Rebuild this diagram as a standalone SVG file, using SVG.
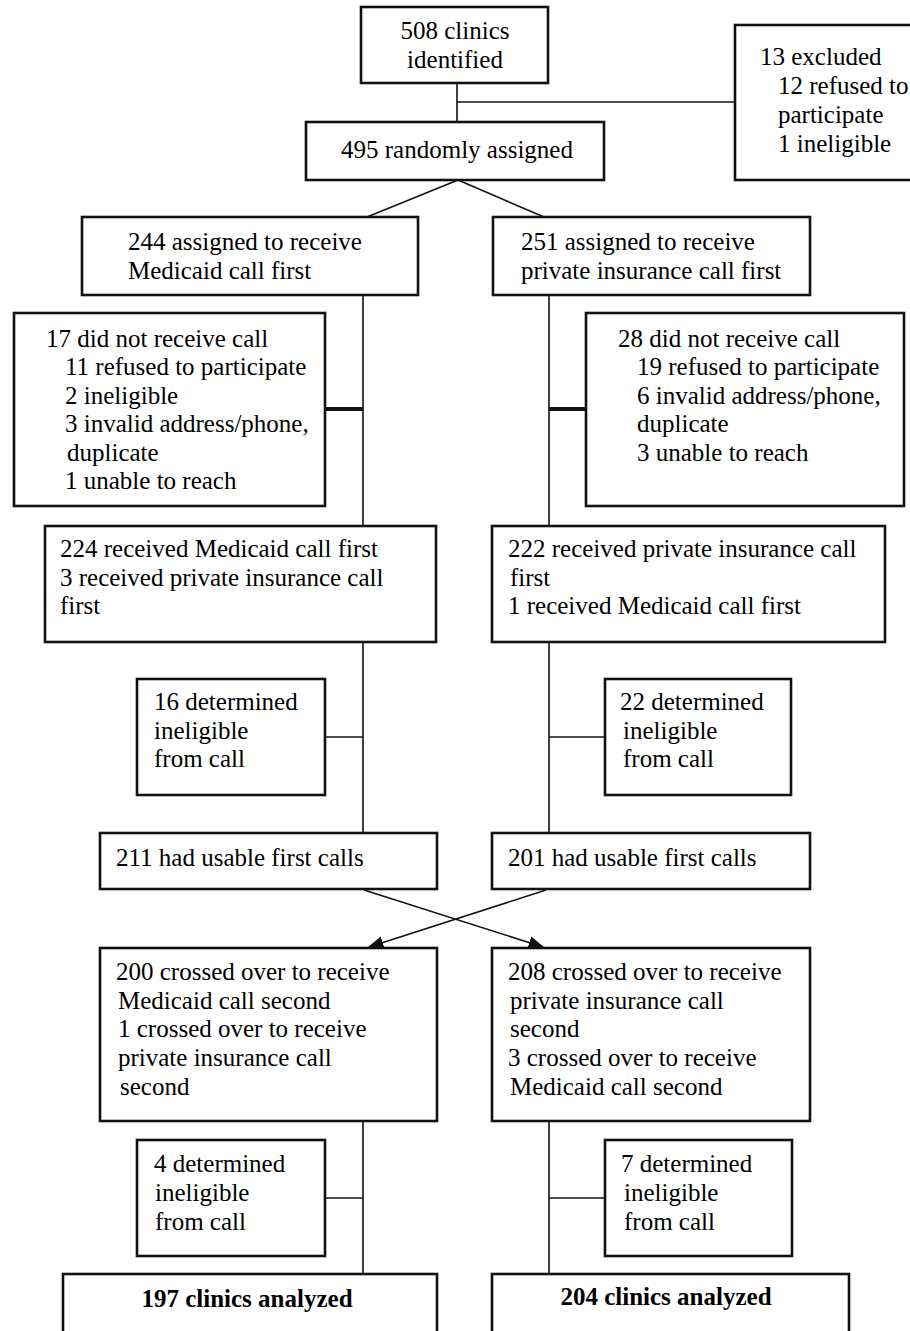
<svg xmlns="http://www.w3.org/2000/svg" width="910" height="1331" viewBox="0 0 910 1331">
<defs>
<style>
.box{fill:#fff;stroke:#111;stroke-width:2.6}
.ln{stroke:#111;stroke-width:1.6;fill:none}
.thk{stroke:#111;stroke-width:4;fill:none}
</style>
<marker id="ah2" viewBox="0 0 10 10" refX="9" refY="5" markerWidth="16" markerHeight="16" markerUnits="userSpaceOnUse" orient="auto">
<path d="M0,1 L10,5 L0,9 z" fill="#111"/>
</marker>
</defs>
<rect width="910" height="1331" fill="#fff"/>
<g id="connectors">
<line class="ln" x1="457" y1="83" x2="457" y2="122"/>
<line class="ln" x1="457" y1="102" x2="736" y2="102"/>
<line class="ln" x1="458" y1="180" x2="367" y2="217"/>
<line class="ln" x1="458" y1="180" x2="544" y2="217"/>
<line class="ln" x1="363" y1="295" x2="363" y2="526"/>
<line class="ln" x1="549" y1="295" x2="549" y2="526"/>
<line class="thk" x1="325" y1="409" x2="363" y2="409"/>
<line class="thk" x1="549" y1="409" x2="586" y2="409"/>
<line class="ln" x1="363" y1="642" x2="363" y2="833"/>
<line class="ln" x1="549" y1="642" x2="549" y2="833"/>
<line class="ln" x1="325" y1="737" x2="363" y2="737"/>
<line class="ln" x1="549" y1="737" x2="605" y2="737"/>
<line class="ln" x1="364" y1="890" x2="543" y2="947" marker-end="url(#ah2)"/>
<line class="ln" x1="546" y1="890" x2="369" y2="947" marker-end="url(#ah2)"/>
<line class="ln" x1="363" y1="1121" x2="363" y2="1274"/>
<line class="ln" x1="549" y1="1121" x2="549" y2="1274"/>
<line class="ln" x1="325" y1="1198" x2="363" y2="1198"/>
<line class="ln" x1="549" y1="1198" x2="605" y2="1198"/>
</g>
<g id="n508">
<rect class="box" x="361" y="7" width="187" height="76"/>
<text font-family="Liberation Serif" font-size="25" text-anchor="middle" x="455" y="39">508 clinics</text>
<text font-family="Liberation Serif" font-size="25" text-anchor="middle" x="455" y="68">identified</text>
</g>
<g id="n13">
<rect class="box" x="735" y="25" width="200" height="155"/>
<text font-family="Liberation Serif" font-size="25" x="760" y="65">13 excluded</text>
<text font-family="Liberation Serif" font-size="25" x="778" y="94">12 refused to</text>
<text font-family="Liberation Serif" font-size="25" x="778" y="123">participate</text>
<text font-family="Liberation Serif" font-size="25" x="778" y="152">1 ineligible</text>
</g>
<g id="n495">
<rect class="box" x="306" y="122" width="298" height="58"/>
<text font-family="Liberation Serif" font-size="25" text-anchor="middle" x="457" y="158">495 randomly assigned</text>
</g>
<g id="n244">
<rect class="box" x="82" y="217" width="336" height="78"/>
<text font-family="Liberation Serif" font-size="25" x="128" y="250">244 assigned to receive</text>
<text font-family="Liberation Serif" font-size="25" x="128" y="279">Medicaid call first</text>
</g>
<g id="n251">
<rect class="box" x="493" y="217" width="317" height="78"/>
<text font-family="Liberation Serif" font-size="25" x="521" y="250">251 assigned to receive</text>
<text font-family="Liberation Serif" font-size="25" x="521" y="279">private insurance call first</text>
</g>
<g id="n17">
<rect class="box" x="14" y="313" width="311" height="193"/>
<text font-family="Liberation Serif" font-size="25" x="46" y="347">17 did not receive call</text>
<text font-family="Liberation Serif" font-size="25" x="65" y="375">11 refused to participate</text>
<text font-family="Liberation Serif" font-size="25" x="65" y="404">2 ineligible</text>
<text font-family="Liberation Serif" font-size="25" x="65" y="432">3 invalid address/phone,</text>
<text font-family="Liberation Serif" font-size="25" x="67" y="461">duplicate</text>
<text font-family="Liberation Serif" font-size="25" x="65" y="489">1 unable to reach</text>
</g>
<g id="n28">
<rect class="box" x="586" y="313" width="318" height="193"/>
<text font-family="Liberation Serif" font-size="25" x="618" y="347">28 did not receive call</text>
<text font-family="Liberation Serif" font-size="25" x="637" y="375">19 refused to participate</text>
<text font-family="Liberation Serif" font-size="25" x="637" y="404">6 invalid address/phone,</text>
<text font-family="Liberation Serif" font-size="25" x="637" y="432">duplicate</text>
<text font-family="Liberation Serif" font-size="25" x="637" y="461">3 unable to reach</text>
</g>
<g id="n224">
<rect class="box" x="45" y="526" width="391" height="116"/>
<text font-family="Liberation Serif" font-size="25" x="60" y="557">224 received Medicaid call first</text>
<text font-family="Liberation Serif" font-size="25" x="60" y="586">3 received private insurance call</text>
<text font-family="Liberation Serif" font-size="25" x="60" y="614">first</text>
</g>
<g id="n222">
<rect class="box" x="492" y="526" width="393" height="116"/>
<text font-family="Liberation Serif" font-size="25" x="508" y="557">222 received private insurance call</text>
<text font-family="Liberation Serif" font-size="25" x="510" y="586">first</text>
<text font-family="Liberation Serif" font-size="25" x="508" y="614">1 received Medicaid call first</text>
</g>
<g id="n16">
<rect class="box" x="137" y="679" width="188" height="116"/>
<text font-family="Liberation Serif" font-size="25" x="154" y="710">16 determined</text>
<text font-family="Liberation Serif" font-size="25" x="154" y="739">ineligible</text>
<text font-family="Liberation Serif" font-size="25" x="154" y="767">from call</text>
</g>
<g id="n22">
<rect class="box" x="605" y="679" width="186" height="116"/>
<text font-family="Liberation Serif" font-size="25" x="620" y="710">22 determined</text>
<text font-family="Liberation Serif" font-size="25" x="623" y="739">ineligible</text>
<text font-family="Liberation Serif" font-size="25" x="623" y="767">from call</text>
</g>
<g id="n211">
<rect class="box" x="100" y="833" width="337" height="56"/>
<text font-family="Liberation Serif" font-size="25" x="116" y="866">211 had usable first calls</text>
</g>
<g id="n201">
<rect class="box" x="492" y="833" width="318" height="56"/>
<text font-family="Liberation Serif" font-size="25" x="508" y="866">201 had usable first calls</text>
</g>
<g id="n200">
<rect class="box" x="100" y="948" width="337" height="173"/>
<text font-family="Liberation Serif" font-size="25" x="116" y="980">200 crossed over to receive</text>
<text font-family="Liberation Serif" font-size="25" x="118" y="1009">Medicaid call second</text>
<text font-family="Liberation Serif" font-size="25" x="118" y="1037">1 crossed over to receive</text>
<text font-family="Liberation Serif" font-size="25" x="118" y="1066">private insurance call</text>
<text font-family="Liberation Serif" font-size="25" x="120" y="1095">second</text>
</g>
<g id="n208">
<rect class="box" x="492" y="948" width="318" height="173"/>
<text font-family="Liberation Serif" font-size="25" x="508" y="980">208 crossed over to receive</text>
<text font-family="Liberation Serif" font-size="25" x="510" y="1009">private insurance call</text>
<text font-family="Liberation Serif" font-size="25" x="510" y="1037">second</text>
<text font-family="Liberation Serif" font-size="25" x="508" y="1066">3 crossed over to receive</text>
<text font-family="Liberation Serif" font-size="25" x="510" y="1095">Medicaid call second</text>
</g>
<g id="n4">
<rect class="box" x="137" y="1140" width="188" height="116"/>
<text font-family="Liberation Serif" font-size="25" x="154" y="1172">4 determined</text>
<text font-family="Liberation Serif" font-size="25" x="155" y="1201">ineligible</text>
<text font-family="Liberation Serif" font-size="25" x="155" y="1230">from call</text>
</g>
<g id="n7">
<rect class="box" x="605" y="1140" width="187" height="116"/>
<text font-family="Liberation Serif" font-size="25" x="621" y="1172">7 determined</text>
<text font-family="Liberation Serif" font-size="25" x="624" y="1201">ineligible</text>
<text font-family="Liberation Serif" font-size="25" x="624" y="1230">from call</text>
</g>
<g id="n197">
<rect class="box" x="63" y="1274" width="374" height="80"/>
<text font-family="Liberation Serif" font-size="25" font-weight="bold" text-anchor="middle" x="247" y="1307">197 clinics analyzed</text>
</g>
<g id="n204">
<rect class="box" x="492" y="1274" width="357" height="80"/>
<text font-family="Liberation Serif" font-size="25" font-weight="bold" text-anchor="middle" x="666" y="1305">204 clinics analyzed</text>
</g>
</svg>
